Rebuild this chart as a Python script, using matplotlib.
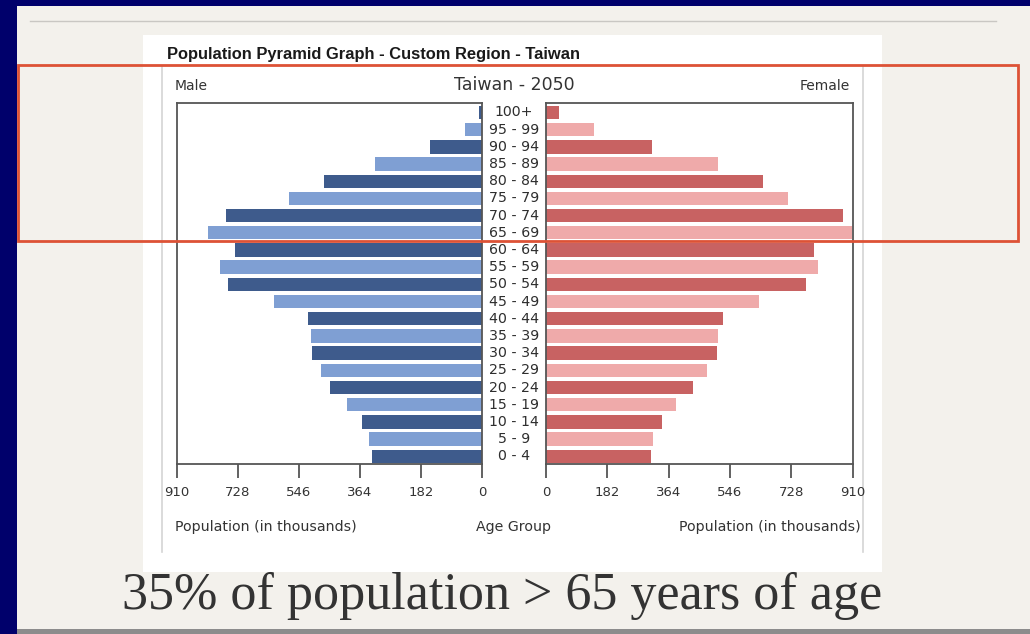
import matplotlib.pyplot as plt
import matplotlib.transforms as mtransforms
from matplotlib.patches import Rectangle
from matplotlib.lines import Line2D

age_groups = ['0 - 4', '5 - 9', '10 - 14', '15 - 19', '20 - 24', '25 - 29', '30 - 34',
              '35 - 39', '40 - 44', '45 - 49', '50 - 54', '55 - 59', '60 - 64', '65 - 69',
              '70 - 74', '75 - 79', '80 - 84', '85 - 89', '90 - 94', '95 - 99', '100+']
male = [329, 336, 359, 404, 453, 481, 507, 511, 518, 619, 756, 781, 736, 817,
        763, 575, 471, 321, 156, 52, 9]
female = [311, 318, 343, 386, 437, 477, 506, 511, 524, 633, 771, 806, 796, 907,
          880, 719, 643, 509, 314, 142, 40]
ticks = [0, 182, 364, 546, 728, 910]

W, H = 1030, 634


def fx(px):
    return px / W


def fy(py):
    return 1 - py / H


fig = plt.figure(figsize=(W / 100, H / 100), dpi=100, facecolor='#00006b')

# slide background, bottom strip, white chart panel
fig.patches.append(Rectangle((fx(17), fy(629)), fx(1030) - fx(17), fy(6) - fy(629),
                             transform=fig.transFigure, facecolor='#f3f1ec', edgecolor='none', zorder=0))
fig.patches.append(Rectangle((fx(17), 0), 1, fy(629), transform=fig.transFigure,
                             facecolor='#8c8c8c', edgecolor='none', zorder=0))
fig.patches.append(Rectangle((fx(143), fy(572)), fx(882) - fx(143), fy(35) - fy(572),
                             transform=fig.transFigure, facecolor='white', edgecolor='none', zorder=1))
fig.lines.append(Line2D([fx(30), fx(996)], [fy(20.5), fy(20.5)], transform=fig.transFigure,
                        color='#c9c7c3', lw=1, zorder=1))
for xp in (161.5, 863):
    fig.lines.append(Line2D([fx(xp), fx(xp)], [fy(66), fy(552)], transform=fig.transFigure,
                            color='#d4d4d4', lw=1.2, zorder=2))

male_cols = ['#3e5b8c' if i % 2 == 0 else '#7f9fd3' for i in range(len(age_groups))]
female_cols = ['#c86262' if i % 2 == 0 else '#efaaaa' for i in range(len(age_groups))]

ax_m = fig.add_axes([fx(176.7), fy(463.5), fx(482.3) - fx(176.7), fy(103) - fy(463.5)])
ax_f = fig.add_axes([fx(546), fy(463.5), fx(852.7) - fx(546), fy(103) - fy(463.5)])
ys = list(range(len(age_groups)))
ax_m.barh(ys, male, height=0.78, color=male_cols)
ax_f.barh(ys, female, height=0.78, color=female_cols)
ax_m.set_xlim(910, 0)
ax_f.set_xlim(0, 910)

for ax in (ax_m, ax_f):
    ax.set_zorder(3)
    ax.set_ylim(-0.42, 20.55)
    ax.set_yticks([])
    ax.set_xticks(ticks)
    ax.set_xticklabels([str(t) for t in ticks], fontsize=9.5, color='#333333')
    ax.tick_params(axis='x', direction='out', length=10, width=1.3, color='#555555', pad=6)
    for s in ax.spines.values():
        s.set_color('#555555')
        s.set_linewidth(1.3)

# age group labels between the two halves
tr = mtransforms.blended_transform_factory(fig.transFigure, ax_f.transData)
for y, lab in zip(ys, age_groups):
    fig.text(fx(514), y, lab, transform=tr, ha='center', va='center', fontsize=10.2,
             color='#2e2e2e', zorder=4)

fig.text(fx(167), fy(55), 'Population Pyramid Graph - Custom Region - Taiwan',
         fontsize=11.9, fontweight='bold', family='Liberation Sans', color='#1a1a1a',
         ha='left', va='center', zorder=4)
fig.text(fx(514), fy(85), 'Taiwan - 2050', fontsize=12.5, color='#333333',
         ha='center', va='center', zorder=4)
fig.text(fx(175), fy(86), 'Male', fontsize=10, color='#333333', ha='left', va='center', zorder=4)
fig.text(fx(850), fy(86), 'Female', fontsize=10, color='#333333', ha='right', va='center', zorder=4)
fig.text(fx(175), fy(527), 'Population (in thousands)', fontsize=10.2, color='#333333',
         ha='left', va='center', zorder=4)
fig.text(fx(513), fy(527), 'Age Group', fontsize=10.2, color='#333333',
         ha='center', va='center', zorder=4)
fig.text(fx(861), fy(527), 'Population (in thousands)', fontsize=10.2, color='#333333',
         ha='right', va='center', zorder=4)

fig.text(fx(502), fy(609), '35% of population > 65 years of age', fontsize=37.5,
         family='Liberation Serif', color='#333333', ha='center', va='baseline', zorder=4)

# highlight box around the 65+ rows
fig.patches.append(Rectangle((fx(17.5), fy(241)), fx(1018) - fx(17.5), fy(65) - fy(241),
                             transform=fig.transFigure, fill=False, edgecolor='#dd5236',
                             lw=2, zorder=10))

fig.savefig('out.png', dpi=100, facecolor=fig.get_facecolor())
